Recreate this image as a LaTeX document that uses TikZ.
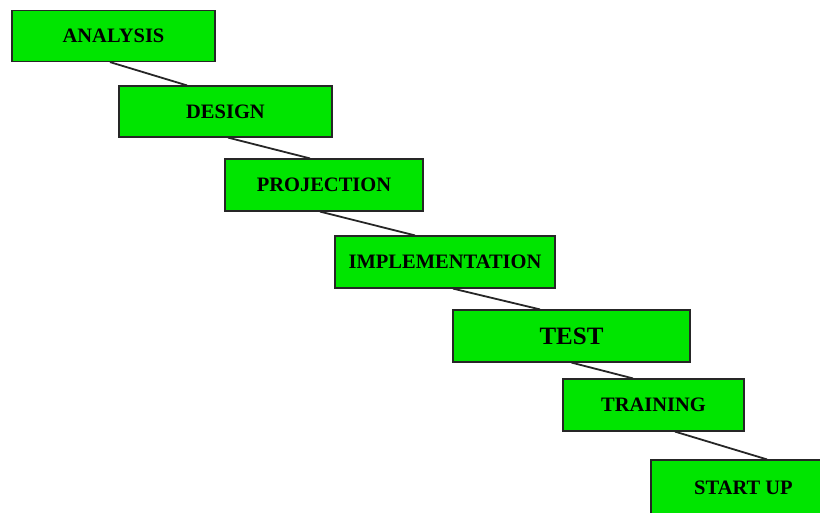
\documentclass[tikz,border=0pt]{standalone}
\usepackage{fontspec}
\setmainfont{Liberation Serif}
\begin{document}
\begin{tikzpicture}[x=1pt,y=-1pt,
        stage/.style={draw=black!85,line width=1.2pt,fill=green!90!black,
            inner sep=0pt,anchor=center,
            font=\bfseries\fontsize{20.5}{24}\selectfont},
        link/.style={line width=1.8pt,black!85}]
        \clip (0,0) rectangle (820,512);
        %% Stages
        \node[stage,minimum width=203pt,minimum height=51pt] (analysis) at (113.5,36) {ANALYSIS};
        \node[stage,minimum width=213pt,minimum height=51pt] (design) at (225.5,111.5) {DESIGN};
        \node[stage,minimum width=198pt,minimum height=52pt] (projection) at (324,185) {PROJECTION};
        \node[stage,minimum width=220pt,minimum height=52pt] (implementation) at (445,262) {IMPLEMENTATION};
        \node[stage,minimum width=237pt,minimum height=52pt,
            font=\bfseries\fontsize{25}{30}\selectfont] (test) at (571.5,336) {TEST};
        \node[stage,minimum width=181pt,minimum height=52pt] (training) at (653.5,405) {TRAINING};
        \node[stage,minimum width=185pt,minimum height=56pt] (startup) at (743.5,488) {START UP};
        %% Links
        \draw[link] ([xshift=-3.5pt]analysis.south) -- ([xshift=-38.5pt]design.north);
        \draw[link] ([xshift=2.5pt]design.south) -- ([xshift=-14pt]projection.north);
        \draw[link] ([xshift=-4pt]projection.south) -- ([xshift=-30pt]implementation.north);
        \draw[link] ([xshift=8pt]implementation.south) -- ([xshift=-31.5pt]test.north);
        \draw[link] (test.south) -- ([xshift=-20.5pt]training.north);
        \draw[link] ([xshift=21.5pt]training.south) -- ([xshift=23.5pt]startup.north);
    \end{tikzpicture}
\end{document}
